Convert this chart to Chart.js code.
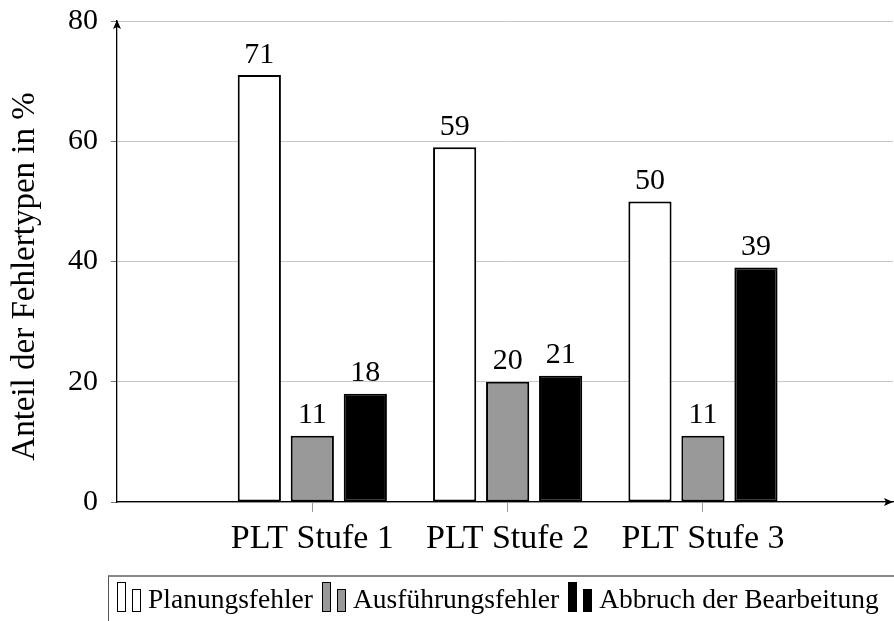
<!DOCTYPE html>
<html>
<head>
<meta charset="utf-8">
<script src="https://cdn.jsdelivr.net/npm/chart.js@4.4.1/dist/chart.umd.min.js"></script>
<style>
  html, body { margin: 0; padding: 0; background: #fff; overflow: hidden; }
  #wrap { position: relative; width: 894px; height: 621px; }
  #legend {
    position: absolute; left: 108px; top: 575px; width: 820px; height: 48px;
    box-sizing: border-box; border: 1px solid #555; border-top: 2px solid #888;
    padding: 5px 0 0 8px; white-space: nowrap;
    font: 27.5px 'Liberation Serif', serif; line-height: 30px; color: #000;
  }
  .ico { display: inline-block; position: relative; width: 24px; height: 30px; vertical-align: -4px; margin-right: 7px; }
  .ico span { position: absolute; bottom: 0; width: 9px; box-sizing: border-box; border: 1.5px solid #000; }
  .ico .b1 { left: 0; height: 30px; }
  .ico .b2 { left: 15px; height: 23px; }
  .item { margin-right: 9px; }
</style>
</head>
<body>
<div id="wrap">
  <canvas id="chart" width="894" height="621"></canvas>
  <div id="legend"></div>
</div>
<script>
(function() {
  'use strict';

  // data
  var categories = ['PLT Stufe 1', 'PLT Stufe 2', 'PLT Stufe 3'];
  var planungsfehler = [71, 59, 50];
  var ausfuehrungsfehler = [11, 20, 11];
  var abbruch = [18, 21, 39];
  var seriesNames = ['Planungsfehler', 'Ausführungsfehler', 'Abbruch der Bearbeitung'];
  var yTicks = [0, 20, 40, 60, 80];
  var yTitle = 'Anteil der Fehlertypen in %';

  var fills = ['#ffffff', '#999999', '#000000'];
  var serif = "'Liberation Serif', serif";

  // groups sit at x = 1, 2, 3 on a linear axis that starts at 0
  var xPos = categories.map(function(_, k) { return k + 1; });
  function points(vals) {
    return vals.map(function(v, k) { return { x: xPos[k], y: v }; });
  }

  Chart.defaults.color = '#000';
  Chart.defaults.font.family = serif;

  var valueLabels = {
    id: 'valueLabels',
    afterDatasetsDraw: function(chart) {
      var ctx = chart.ctx;
      ctx.save();
      ctx.font = '30px ' + serif;
      ctx.fillStyle = '#000';
      ctx.textAlign = 'center';
      ctx.textBaseline = 'alphabetic';
      chart.data.datasets.forEach(function(ds, i) {
        chart.getDatasetMeta(i).data.forEach(function(bar, j) {
          ctx.fillText(String(ds.data[j].y), bar.x, bar.y - 12.5);
        });
      });
      ctx.restore();
    }
  };

  // arrow heads + y label (pgfplots puts it a bit below the axis middle)
  var axisDecor = {
    id: 'axisDecor',
    afterDraw: function(chart) {
      var a = chart.chartArea, ctx = chart.ctx;
      ctx.save();
      ctx.fillStyle = '#000';
      ctx.beginPath();
      ctx.moveTo(a.left, a.top - 1);
      ctx.lineTo(a.left - 4, a.top + 8);
      ctx.lineTo(a.left, a.top + 6);
      ctx.lineTo(a.left + 4, a.top + 8);
      ctx.closePath();
      ctx.fill();
      ctx.beginPath();
      ctx.moveTo(a.right, a.bottom);
      ctx.lineTo(a.right - 9, a.bottom - 4);
      ctx.lineTo(a.right - 7, a.bottom);
      ctx.lineTo(a.right - 9, a.bottom + 4);
      ctx.closePath();
      ctx.fill();

      ctx.translate(25.8, (a.top + a.bottom) / 2 + 15);
      ctx.rotate(-Math.PI / 2);
      ctx.font = '33px ' + serif;
      ctx.textAlign = 'center';
      ctx.textBaseline = 'middle';
      ctx.fillText(yTitle, 0, 0);
      ctx.restore();
    }
  };

  new Chart(document.getElementById('chart').getContext('2d'), {
    type: 'bar',
    data: {
      datasets: [planungsfehler, ausfuehrungsfehler, abbruch].map(function(vals, i) {
        return {
          label: seriesNames[i],
          data: points(vals),
          backgroundColor: fills[i],
          borderColor: '#000',
          borderWidth: 2,
          borderSkipped: false,
          categoryPercentage: 0.814,
          barPercentage: 0.815
        };
      })
    },
    options: {
      responsive: false,
      animation: false,
      layout: { padding: { top: 21, right: 1, left: 0, bottom: 0 } },
      plugins: {
        legend: { display: false },
        tooltip: { enabled: false }
      },
      scales: {
        x: {
          type: 'linear',
          min: 0,
          max: 3.973,
          offset: false,
          afterBuildTicks: function(s) { s.ticks = xPos.map(function(v) { return { value: v }; }); },
          grid: { offset: false, drawOnChartArea: false, drawTicks: true, tickLength: 10, color: '#999', tickColor: '#999' },
          border: { display: true, color: '#000', width: 1.3 },
          ticks: {
            font: { size: 34 }, padding: 7, maxRotation: 0, autoSkip: false,
            callback: function(v) { return categories[xPos.indexOf(v)] || ''; }
          },
          afterFit: function(s) { s.height = 119; s.paddingLeft = 0; s.paddingRight = 0; }
        },
        y: {
          min: 0,
          max: 80,
          afterBuildTicks: function(s) { s.ticks = yTicks.map(function(v) { return { value: v }; }); },
          grid: { color: '#c8c8c8', lineWidth: 1, tickLength: 6, tickColor: '#777' },
          border: { display: true, color: '#000', width: 1.3 },
          ticks: { font: { size: 30 }, padding: 13 },
          afterFit: function(s) { s.width = 117; s.paddingTop = 0; s.paddingBottom = 0; }
        }
      }
    },
    plugins: [valueLabels, axisDecor]
  });

  // legend in the pgfplots style: two little bars per entry
  var legend = document.getElementById('legend');
  seriesNames.forEach(function(name, i) {
    var item = document.createElement('span');
    item.className = 'item';
    var ico = document.createElement('span');
    ico.className = 'ico';
    ['b1', 'b2'].forEach(function(cls) {
      var b = document.createElement('span');
      b.className = cls;
      b.style.background = fills[i];
      ico.appendChild(b);
    });
    item.appendChild(ico);
    item.appendChild(document.createTextNode(name));
    legend.appendChild(item);
  });
})();
</script>
</body>
</html>
